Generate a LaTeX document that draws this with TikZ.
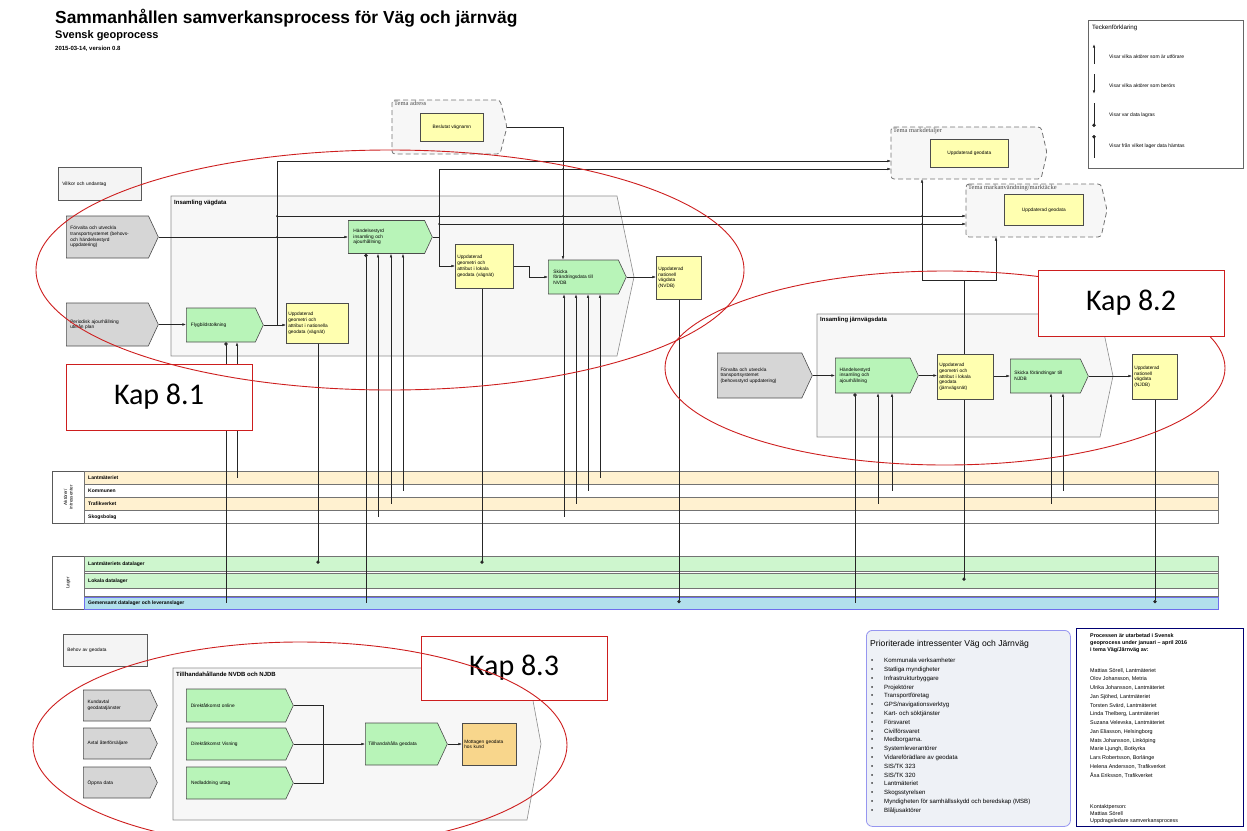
\documentclass[tikz,border=0pt]{standalone}
\usepackage{fontspec}
\setmainfont{Liberation Sans}
\newfontfamily\temafont{Liberation Serif}
\newfontfamily\kapfont{Carlito}
\usetikzlibrary{shapes.symbols,arrows.meta,positioning}
\definecolor{funccolor}{RGB}{184,244,184}
\definecolor{eventcolor}{RGB}{214,214,214}
\definecolor{datacolor}{RGB}{255,255,176}
\definecolor{notefill}{RGB}{244,244,244}
\definecolor{groupfill}{RGB}{247,247,247}
\definecolor{rowtan}{RGB}{255,241,208}
\definecolor{rowgreen}{RGB}{206,246,206}
\definecolor{rowblue}{RGB}{178,224,236}
\definecolor{rowblueedge}{RGB}{110,110,235}
\definecolor{kapred}{RGB}{205,30,30}
\definecolor{kundcolor}{RGB}{248,214,140}
\definecolor{prioedge}{RGB}{150,150,240}
\definecolor{priofill}{RGB}{238,241,246}
\newcommand{\boxfont}{\fontsize{4.8}{5.7}\selectfont}
\newcommand{\rowfont}{\fontsize{5}{6}\selectfont\bfseries}
\newcommand{\groupfont}{\fontsize{6}{7}\selectfont\bfseries}
\newcommand{\temalabelfont}{\fontsize{6.5}{7}\selectfont\temafont}
\tikzstyle{func} = [signal, signal to=east, signal pointer angle=130, draw=black!70, line width=0.6pt, fill=funccolor, font=\boxfont, align=left, anchor=west, inner sep=2pt]
\tikzstyle{event} = [func, fill=eventcolor]
\tikzstyle{datanode} = [rectangle, draw=black!70, line width=0.6pt, fill=datacolor, font=\boxfont, align=left, anchor=north west, inner sep=2pt]
\tikzstyle{note} = [rectangle, draw=black!65, line width=0.6pt, fill=notefill, font=\boxfont, anchor=north west, align=left, inner sep=3pt]
\tikzstyle{group} = [draw=black!45, line width=0.6pt, fill=groupfill]
\tikzstyle{tema} = [draw=black!55, dash pattern=on 5pt off 3pt, line width=0.8pt, fill=groupfill, rounded corners=3pt]
\tikzstyle{conn} = [draw=black!85, line width=0.5pt]
\tikzstyle{legendline} = [draw=black!85, line width=0.8pt]
\tikzstyle{kapbox} = [rectangle, draw=kapred, line width=0.8pt, fill=white, font=\kapfont\fontsize{30}{32}\selectfont]
\tikzstyle{kapring} = [draw=kapred, line width=0.9pt]
\tikzstyle{row} = [rectangle, draw=black!55, line width=0.6pt, anchor=north west, minimum width=1134, minimum height=13, inner sep=0]
\tikzstyle{rowlabel} = [anchor=west, font=\rowfont, inner sep=0, xshift=4pt]
\tikzstyle{dot} = [{Circle[length=3.4pt]}-]
\tikzstyle{dotend} = [-{Circle[length=3.4pt]}]
\tikzstyle{crossing} = [fill=black!85]

\begin{document}
\begin{tikzpicture}[x=1pt, y=-1pt, >={Latex[length=3.6pt,width=2.6pt]}]
\useasboundingbox (0,0) rectangle (1247,830);

% rubrik
\node[anchor=base west, inner sep=0, font=\fontsize{17.4}{20}\selectfont\bfseries] (title) at (55,23) {Sammanhållen samverkansprocess för Väg och järnväg};
\node[anchor=base west, inner sep=0, font=\fontsize{11}{13}\selectfont\bfseries] (subtitle) at (55,38) {Svensk geoprocess};
\node[anchor=base west, inner sep=0, font=\fontsize{6}{7}\selectfont\bfseries] (version) at (55,50) {2015-03-14, version 0.8};

% teckenförklaring
\node[rectangle, draw=black!60, line width=0.6pt, anchor=north west, minimum width=155, minimum height=148] (legend) at (1088,20) {};
\node[anchor=north west, inner sep=0, font=\fontsize{6.2}{7}\selectfont] at (1092,25) {Teckenförklaring};
\draw[legendline,->] (1094,64) -- (1094,44);
\draw[legendline,->] (1094,74) -- (1094,94);
\draw[legendline,dotend] (1094,103) -- (1094,127);
\draw[legendline,dot] (1094,135) -- (1094,158);
\node[anchor=west, inner sep=0, font=\fontsize{5}{6}\selectfont] at (1109,57) {Visar vilka aktörer som är utförare};
\node[anchor=west, inner sep=0, font=\fontsize{5}{6}\selectfont] at (1109,86) {Visar vilka aktörer som berörs};
\node[anchor=west, inner sep=0, font=\fontsize{5}{6}\selectfont] at (1109,115) {Visar var data lagras};
\node[anchor=west, inner sep=0, font=\fontsize{5}{6}\selectfont] at (1109,146) {Visar från vilket lager data hämtas};

% grupper
\path[group] (171,196) -- (617,196) -- (634,277) -- (617,356) -- (171,356) -- cycle;
\node[anchor=north west, inner sep=0, font=\groupfont] (vagLabel) at (174,200) {Insamling vägdata};
\path[group] (817,314) -- (1100,314) -- (1113,376) -- (1100,437) -- (817,437) -- cycle;
\node[anchor=north west, inner sep=0, font=\groupfont] (jvgLabel) at (820,317) {Insamling järnvägsdata};
\path[group] (173,668) -- (527,668) -- (541,744) -- (527,820) -- (173,820) -- cycle;
\node[anchor=north west, inner sep=0, font=\groupfont] (tillLabel) at (176,671) {Tillhandahållande NVDB och NJDB};

% teman
\path[tema] (392,100) -- (500,100) -- (507,127) -- (500,154) -- (392,154) -- cycle;
\coordinate (adressTip) at (507,127);
\node[anchor=north west, inner sep=0, font=\temalabelfont, text=black!70] at (394,101) {Tema adress};
\path[tema] (891,127) -- (1041,127) -- (1047,153) -- (1041,179) -- (891,179) -- cycle;
\coordinate (mdLeft) at (891,153);
\coordinate (mdBottom) at (922,179);
\node[anchor=north west, inner sep=0, font=\temalabelfont, text=black!70] at (893,128) {Tema markdetaljer};
\path[tema] (966,184) -- (1101,184) -- (1107,210) -- (1101,237) -- (966,237) -- cycle;
\coordinate (maLeft) at (966,210);
\coordinate (maBottom) at (996,237);
\node[anchor=north west, inner sep=0, font=\temalabelfont, text=black!70] at (968,185) {Tema markanvändning/marktäcke};

\node[datanode, minimum width=63, minimum height=28] (beslutat) at (420,113) {Beslutat vägnamn};
\node[datanode, minimum width=78, minimum height=28] (geodataMd) at (930,139) {Uppdaterad geodata};
\node[datanode, minimum width=79, minimum height=31] (geodataMa) at (1004,194) {Uppdaterad geodata};

% villkor och behov
\node[note, minimum width=83, minimum height=33, text width=75] (villkor) at (58,167) {Villkor och undantag};
\node[note, minimum width=84, minimum height=32, text width=76] (behov) at (63,634) {Behov av geodata};

% insamling vägdata
\node[event, minimum width=92, minimum height=42, text width=74] (forvaltaV) at (66,237) {Förvalta och utveckla\\transportsystemet (behovs-\\och händelsestyrd\\uppdatering)};
\node[event, minimum width=92, minimum height=43, text width=74] (periodisk) at (66,324.5) {Periodisk ajourhållning\\utifrån plan};
\node[func, minimum width=77, minimum height=34, text width=60] (flyg) at (186,325) {Flygbildstolkning};
\node[datanode, minimum width=62, minimum height=40, text width=58] (uppdNat) at (286,303) {Uppdaterad\\geometri och\\attribut i nationella\\geodata (vägnät)};
\node[func, minimum width=84, minimum height=33, text width=66] (handV) at (348,237) {Händelsestyrd\\insamling och\\ajourhållning};
\node[datanode, minimum width=58, minimum height=44, text width=54] (uppdLok) at (455,244) {Uppdaterad\\geometri och\\attribut i lokala\\geodata (vägnät)};
\node[func, minimum width=78, minimum height=34, text width=60] (skickaV) at (548,277) {Skicka\\förändringsdata till\\NVDB};
\node[datanode, minimum width=45, minimum height=43, text width=41] (nvdb) at (656,256) {Uppdaterad\\nationell\\vägdata\\(NVDB)};

% insamling järnvägsdata
\node[event, minimum width=95, minimum height=45, text width=78] (forvaltaJ) at (717,375.5) {Förvalta och utveckla\\transportsystemet\\(behovsstyrd uppdatering)};
\node[func, minimum width=83, minimum height=35, text width=66] (handJ) at (835,375.5) {Händelsestyrd\\insamling och\\ajourhållning};
\node[datanode, minimum width=56, minimum height=45, text width=52] (uppdLokJ) at (937,354) {Uppdaterad\\geometri och\\attribut i lokala\\geodata\\(järnvägsnät)};
\node[func, minimum width=78, minimum height=34, text width=62] (skickaJ) at (1010,376) {Skicka förändringar till\\NJDB};
\node[datanode, minimum width=45, minimum height=45, text width=41] (njdb) at (1132,354) {Uppdaterad\\nationell\\vägdata\\(NJDB)};

% tillhandahållande
\node[event, minimum width=74, minimum height=31, text width=58] (kundavtal) at (83,705.5) {Kundavtal\\geodatatjänster};
\node[event, minimum width=74, minimum height=31, text width=58] (avtal) at (83,743.5) {Avtal återförsäljare};
\node[event, minimum width=74, minimum height=31, text width=58] (oppna) at (83,782.5) {Öppna data};
\node[func, minimum width=107, minimum height=33, text width=90] (online) at (186,705.5) {Direktåtkomst online};
\node[func, minimum width=107, minimum height=32, text width=90] (visning) at (186,744) {Direktåtkomst Visning};
\node[func, minimum width=107, minimum height=32, text width=90] (nedladdning) at (186,783) {Nedladdning uttag};
\node[func, minimum width=82, minimum height=42, text width=66] (tillh) at (365,744) {Tillhandahålla geodata};
\node[datanode, fill=kundcolor, minimum width=54, minimum height=42, text width=50] (mottagen) at (462,723) {Mottagen geodata\\hos kund};

% aktörer och lager
\node[rectangle, draw=black!65, line width=0.6pt, anchor=north west, minimum width=32, minimum height=52] (aktorBox) at (52,471) {};
\node[rotate=90, align=center, font=\fontsize{4.6}{5.4}\selectfont] at (aktorBox.center) {Aktörer/\\intressenter};
\node[row, fill=rowtan] (lantm) at (84,471) {};
\node[row] (kommun) at (84,484) {};
\node[row, fill=rowtan] (trafik) at (84,497) {};
\node[row] (skog) at (84,510) {};
\node[rowlabel] at (lantm.west) {Lantmäteriet};
\node[rowlabel] at (kommun.west) {Kommunen};
\node[rowlabel] at (trafik.west) {Trafikverket};
\node[rowlabel] at (skog.west) {Skogsbolag};

\node[rectangle, draw=black!65, line width=0.6pt, anchor=north west, minimum width=32, minimum height=53] (lagerBox) at (52,556) {};
\node[rotate=90, font=\fontsize{4.6}{5.4}\selectfont] at (lagerBox.center) {Lager};
\node[row, draw=black!55, minimum height=40] (lagerBg) at (84,556) {};
\node[row, fill=rowgreen, minimum height=15] (lmLager) at (84,556) {};
\node[row, fill=rowgreen, minimum height=15] (lokLager) at (84,573) {};
\node[row, fill=rowblue, draw=rowblueedge, minimum height=12] (gemLager) at (84,597) {};
\node[rowlabel] at (lmLager.west) {Lantmäteriets datalager};
\node[rowlabel] at (lokLager.west) {Lokala datalager};
\node[rowlabel] at (gemLager.west) {Gemensamt datalager och leveranslager};

% flöden vägdata
\draw[conn,->] (forvaltaV.east) -- (forvaltaV.east -| handV.west);
\draw[conn,->] (periodisk.east) -- (periodisk.east -| flyg.west);
\draw[conn,->] (flyg.east) -- (flyg.east -| uppdNat.west);
\draw[conn,->] (277,0 |- flyg.east) -- (277,161) -- (mdLeft |- 0,161);
\draw[conn,->] (277,216) -- (maLeft |- 0,216);
\draw[conn,->] (handV.east) -- (439,0 |- handV.east) -- (439,266) -- (uppdLok.west |- 0,266);
\draw[conn,->] (439,266) -- (439,169) -- (mdLeft |- 0,169);
\draw[conn,->] (439,224) -- (maLeft |- 0,224);
\draw[conn,->] (uppdLok.east |- 0,266) -- (529,266) -- (529,0 |- skickaV.west) -- (skickaV.west);
\draw[conn,->] (adressTip) -- (563,0 |- adressTip) -- (563,0 |- skickaV.north);
\draw[conn,->] (skickaV.east) -- (skickaV.east -| nvdb.west);
\fill[crossing] (277,216) circle (1pt) (277,237) circle (1pt) (439,216) circle (1pt) (439,224) circle (1pt)
  (563,161) circle (1pt) (563,169) circle (1pt) (563,216) circle (1pt) (563,224) circle (1pt)
  (922,216) circle (1pt) (922,224) circle (1pt);

% flöden järnväg
\draw[conn,->] (forvaltaJ.east) -- (forvaltaJ.east -| handJ.west);
\draw[conn,->] (handJ.east) -- (handJ.east -| uppdLokJ.west);
\draw[conn,->] (uppdLokJ.east |- skickaJ.west) -- (skickaJ.west);
\draw[conn,->] (skickaJ.east) -- (skickaJ.east -| njdb.west);
\draw[conn,->] (uppdLokJ.north -| 964,0) -- (964,280) -- (maBottom |- 0,280) -- (maBottom);
\draw[conn,->] (964,280) -- (mdBottom |- 0,280) -- (mdBottom);

% flöden tillhandahållande
\draw[conn] (online.east) -- (323,0 |- online.east) -- (323,0 |- nedladdning.east) -- (nedladdning.east);
\draw[conn] (visning.east) -- (323,0 |- visning.east);
\draw[conn,->] (323,0 |- tillh.west) -- (tillh.west);
\draw[conn,->] (tillh.east) -- (tillh.east -| mottagen.west);

% aktörer och lager, vägdata
\draw[conn,dot] (226,0 |- flyg.south) -- (226,0 |- gemLager.center);
\draw[conn,->] (237,0 |- lantm.center) -- (237,0 |- flyg.south);
\draw[conn,dotend] (318,0 |- uppdNat.south) -- (318,0 |- lmLager.center);
\draw[conn,dot] (366,0 |- handV.south) -- (366,0 |- gemLager.center);
\draw[conn,->] (378,0 |- skog.center) -- (378,0 |- handV.south);
\draw[conn,->] (391,0 |- trafik.center) -- (391,0 |- handV.south);
\draw[conn,->] (403,0 |- kommun.center) -- (403,0 |- handV.south);
\draw[conn,dotend] (482,0 |- uppdLok.south) -- (482,0 |- lmLager.center);
\draw[conn,->] (564,0 |- skog.center) -- (564,0 |- skickaV.south);
\draw[conn,->] (576,0 |- trafik.center) -- (576,0 |- skickaV.south);
\draw[conn,->] (588,0 |- kommun.center) -- (588,0 |- skickaV.south);
\draw[conn,->] (600,0 |- lantm.center) -- (600,0 |- skickaV.south);
\draw[conn,dotend] (679,0 |- nvdb.south) -- (679,0 |- gemLager.center);

% aktörer och lager, järnväg
\draw[conn,dot] (855,0 |- handJ.south) -- (855,0 |- gemLager.center);
\draw[conn,->] (878,0 |- trafik.center) -- (878,0 |- handJ.south);
\draw[conn,->] (892,0 |- kommun.center) -- (892,0 |- handJ.south);
\draw[conn,dotend] (964,0 |- uppdLokJ.south) -- (964,0 |- lokLager.center);
\draw[conn,->] (1051,0 |- trafik.center) -- (1051,0 |- skickaJ.south);
\draw[conn,->] (1063,0 |- kommun.center) -- (1063,0 |- skickaJ.south);
\draw[conn,dotend] (1155,0 |- njdb.south) -- (1155,0 |- gemLager.center);

% prioriterade intressenter
\node[rectangle, rounded corners=6pt, draw=prioedge, line width=0.8pt, fill=priofill, anchor=north west, minimum width=204, minimum height=196] (prio) at (866,630) {};
\node[anchor=north west, inner sep=0, font=\fontsize{8.6}{10}\selectfont] (prioTitle) at (870,640) {Prioriterade intressenter Väg och Järnväg};
\node[anchor=north west, inner sep=0, align=left, font=\fontsize{6.1}{8.8}\selectfont] (prioList) at (871,658) {%
\makebox[13pt][l]{\textbullet}Kommunala verksamheter\\
\makebox[13pt][l]{\textbullet}Statliga myndigheter\\
\makebox[13pt][l]{\textbullet}Infrastrukturbyggare\\
\makebox[13pt][l]{\textbullet}Projektörer\\
\makebox[13pt][l]{\textbullet}Transportföretag\\
\makebox[13pt][l]{\textbullet}GPS/navigationsverktyg\\
\makebox[13pt][l]{\textbullet}Kart- och söktjänster\\
\makebox[13pt][l]{\textbullet}Försvaret\\
\makebox[13pt][l]{\textbullet}Civilförsvaret\\
\makebox[13pt][l]{\textbullet}Medborgarna.\\
\makebox[13pt][l]{\textbullet}Systemleverantörer\\
\makebox[13pt][l]{\textbullet}Vidareförädlare av geodata\\
\makebox[13pt][l]{\textbullet}SIS/TK 323\\
\makebox[13pt][l]{\textbullet}SIS/TK 320\\
\makebox[13pt][l]{\textbullet}Lantmäteriet\\
\makebox[13pt][l]{\textbullet}Skogsstyrelsen\\
\makebox[13pt][l]{\textbullet}Myndigheten för samhällsskydd och beredskap (MSB)\\
\makebox[13pt][l]{\textbullet}Blåljusaktörer};

% arbetsgrupp
\node[rectangle, draw=black!55!blue, line width=0.7pt, anchor=north west, minimum width=167, minimum height=198] (grupp) at (1076,628) {};
\node[anchor=north west, inner sep=0, align=left, font=\fontsize{5.4}{7.4}\selectfont\bfseries] (gruppHead) at (1090,633) {Processen är utarbetad i Svensk\\geoprocess under januari – april 2016\\i tema Väg/Järnväg av:};
\node[anchor=north west, inner sep=0, align=left, font=\fontsize{5.4}{8.75}\selectfont] (gruppNames) at (1090,668) {Mattias Sörell, Lantmäteriet\\Olov Johansson, Metria\\Ulrika Johansson, Lantmäteriet\\Jan Sjöhed, Lantmäteriet\\Torsten Svärd, Lantmäteriet\\Linda Thelberg, Lantmäteriet\\Suzana Velevska, Lantmäteriet\\Jan Eliasson, Helsingborg\\Mats Johansson, Linköping\\Marie Ljungh, Botkyrka\\Lars Robertsson, Borlänge\\Helena Andersson, Trafikverket\\Åsa Eriksson, Trafikverket};
\node[anchor=north west, inner sep=0, align=left, font=\fontsize{5.4}{7.2}\selectfont] (gruppKontakt) at (1090,804) {Kontaktperson:\\Mattias Sörell\\Uppdragsledare samverkansprocess};

% kapitel
\node[kapbox, minimum width=186, minimum height=66] (kap81) at (159,397) {Kap 8.1};
\draw[kapring] (945,368) ellipse [x radius=280pt, y radius=97pt];
\node[kapbox, minimum width=186, minimum height=66] (kap82) at (1131,303) {Kap 8.2};
\node[kapbox, minimum width=186, minimum height=64] (kap83) at (514,668) {Kap 8.3};
\draw[kapring] (390,270) ellipse [x radius=354pt, y radius=120pt];
\draw[kapring] (300,745) ellipse [x radius=267pt, y radius=103pt];
\end{tikzpicture}
\end{document}
